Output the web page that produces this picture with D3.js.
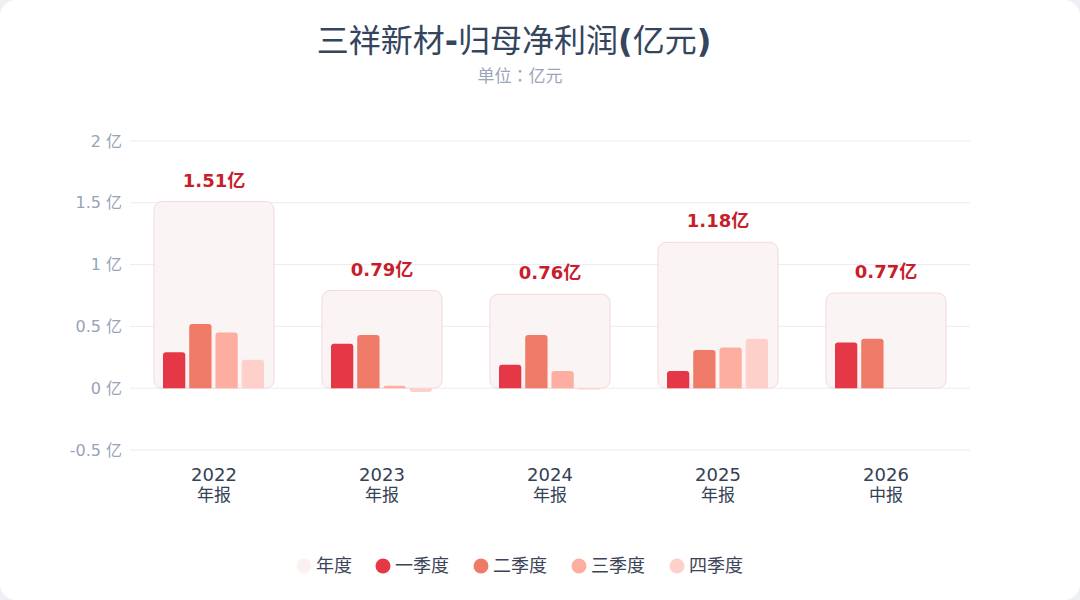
<!DOCTYPE html>
<html>
<head>
<meta charset="utf-8">
<script src="https://cdn.jsdelivr.net/npm/d3@7"></script>
<style>
  html, body { margin: 0; padding: 0; background: #eef0f3; }
  #chart { width: 1080px; height: 600px; }
  text { font-family: "DejaVu Sans", "Noto Sans CJK SC", sans-serif; }
</style>
</head>
<body>
<div id="chart"></div>
<script>
/* DATA */
const years = ["2022", "2023", "2024", "2025", "2026"];
const reportTypes = ["年报", "年报", "年报", "年报", "中报"];
const annual = [1.51, 0.79, 0.76, 1.18, 0.77];
const q1 = [0.29, 0.36, 0.19, 0.14, 0.37];
const q2 = [0.52, 0.43, 0.43, 0.31, 0.40];
const q3 = [0.45, 0.02, 0.14, 0.33, null];
const q4 = [0.23, -0.03, -0.01, 0.40, null];
const quarters = ["一季度", "二季度", "三季度", "四季度"];
const yTicks = [-0.5, 0, 0.5, 1, 1.5, 2];
const legendLabels = ["年度", "一季度", "二季度", "三季度", "四季度"];

/* CONSTANTS */
const width = 1080,
  height = 600,
  margin = { top: 141, bottom: 150, left: 130, right: 110 };

const quarterColors = ["#e63746", "#f07a68", "#fdaea1", "#fdd1c9"];
const annualFill = "#fbf4f5";
const annualStroke = "#f5d9dc";

const svg = d3.select("#chart")
  .append("svg")
  .attr("width", width)
  .attr("height", height);

// card background
svg.append("rect")
  .attr("width", width)
  .attr("height", height)
  .attr("rx", 16)
  .attr("fill", "#ffffff");

// SCALES
const xScale = d3.scaleBand()
  .domain(years)
  .range([margin.left, width - margin.right])
  .paddingInner(0.2857)
  .paddingOuter(0.14285);

const qScale = d3.scaleBand()
  .domain(quarters)
  .range([9, 110])
  .paddingInner(0.15);

const yScale = d3.scaleLinear()
  .domain([-0.5, 2])
  .range([height - margin.bottom, margin.top]);

// TITLE
const title = svg.append("text")
  .attr("x", 514)
  .attr("y", 52)
  .attr("text-anchor", "middle")
  .attr("fill", "#34455d")
  .attr("font-size", 32);
title.append("tspan").text("三祥新材");
title.append("tspan").attr("font-weight", "bold").text("-");
title.append("tspan").text("归母净利润");
title.append("tspan").attr("font-weight", "bold").text("(");
title.append("tspan").text("亿元");
title.append("tspan").attr("font-weight", "bold").text(")");

svg.append("text")
  .attr("x", 520)
  .attr("y", 82)
  .attr("text-anchor", "middle")
  .attr("fill", "#9aa6b9")
  .attr("font-size", 17)
  .style("font-family", "\"Noto Sans CJK TC\", sans-serif")
  .text("单位：亿元");

// GRID + Y AXIS
const yAxis = d3.axisLeft(yScale)
  .tickValues(yTicks)
  .tickSize(0)
  .tickPadding(8)
  .tickFormat(d => `${d} 亿`);

const yG = svg.append("g")
  .attr("transform", `translate(${margin.left},0)`)
  .call(yAxis);
yG.select(".domain").remove();
yG.selectAll("text")
  .attr("fill", "#97a3b7")
  .attr("font-size", 16);

svg.append("g")
  .selectAll("line")
  .data(yTicks)
  .join("line")
  .attr("x1", margin.left)
  .attr("x2", width - margin.right)
  .attr("y1", d => yScale(d))
  .attr("y2", d => yScale(d))
  .attr("stroke", "#ecebf0")
  .attr("stroke-width", 1);

// X AXIS LABELS
const xG = svg.append("g");
xG.selectAll("text.year")
  .data(years)
  .join("text")
  .attr("class", "year")
  .attr("x", d => xScale(d) + xScale.bandwidth() / 2)
  .attr("y", 481)
  .attr("text-anchor", "middle")
  .attr("fill", "#344055")
  .attr("font-size", 18)
  .text(d => d);
xG.selectAll("text.type")
  .data(years)
  .join("text")
  .attr("class", "type")
  .attr("x", d => xScale(d) + xScale.bandwidth() / 2)
  .attr("y", 501)
  .attr("text-anchor", "middle")
  .attr("fill", "#344055")
  .attr("font-size", 17)
  .text((d, i) => reportTypes[i]);

// ANNUAL BOXES
const groups = svg.append("g")
  .selectAll("g")
  .data(years)
  .join("g")
  .attr("transform", d => `translate(${xScale(d)},0)`);

groups.append("rect")
  .attr("x", 0)
  .attr("width", xScale.bandwidth())
  .attr("y", (d, i) => yScale(annual[i]))
  .attr("height", (d, i) => yScale(0) - yScale(annual[i]))
  .attr("rx", 8)
  .attr("fill", annualFill)
  .attr("stroke", annualStroke)
  .attr("stroke-width", 1);

// rounded bar path: rounded at the far end from zero
function barPath(x, w, v) {
  const y0 = yScale(0), y1 = yScale(v);
  const h = Math.abs(y0 - y1);
  const r = Math.min(3, h, w / 2);
  if (v >= 0) {
    return `M${x},${y0} V${y1 + r} Q${x},${y1} ${x + r},${y1} H${x + w - r} Q${x + w},${y1} ${x + w},${y1 + r} V${y0} Z`;
  }
  return `M${x},${y0} V${y1 - r} Q${x},${y1} ${x + r},${y1} H${x + w - r} Q${x + w},${y1} ${x + w},${y1 - r} V${y0} Z`;
}

const qSeries = [q1, q2, q3, q4];
groups.each(function(d, i) {
  const g = d3.select(this);
  const vals = qSeries.map((s, k) => ({ q: quarters[k], v: s[i], c: quarterColors[k] }))
    .filter(o => o.v !== null);
  g.selectAll("path.q")
    .data(vals)
    .join("path")
    .attr("class", "q")
    .attr("d", o => barPath(qScale(o.q), qScale.bandwidth(), o.v))
    .attr("fill", o => o.c);
});

// annual labels
groups.append("text")
  .attr("x", xScale.bandwidth() / 2)
  .attr("y", (d, i) => yScale(annual[i]) - 15)
  .attr("text-anchor", "middle")
  .attr("fill", "#c81d2b")
  .attr("font-size", 18)
  .attr("font-weight", "bold")
  .text((d, i) => `${annual[i].toFixed(2)}亿`);

// LEGEND
const legendColors = ["#fcf1f1"].concat(quarterColors);
const legendX = [304, 383, 481, 579, 677];
const legend = svg.append("g")
  .selectAll("g")
  .data(legendLabels)
  .join("g")
  .attr("transform", (d, i) => `translate(${legendX[i]},566)`);
legend.append("circle")
  .attr("r", 7.5)
  .attr("fill", (d, i) => legendColors[i]);
legend.append("text")
  .attr("x", 12)
  .attr("y", 6)
  .attr("fill", "#3c4558")
  .attr("font-size", 18)
  .text(d => d);
</script>
</body>
</html>
